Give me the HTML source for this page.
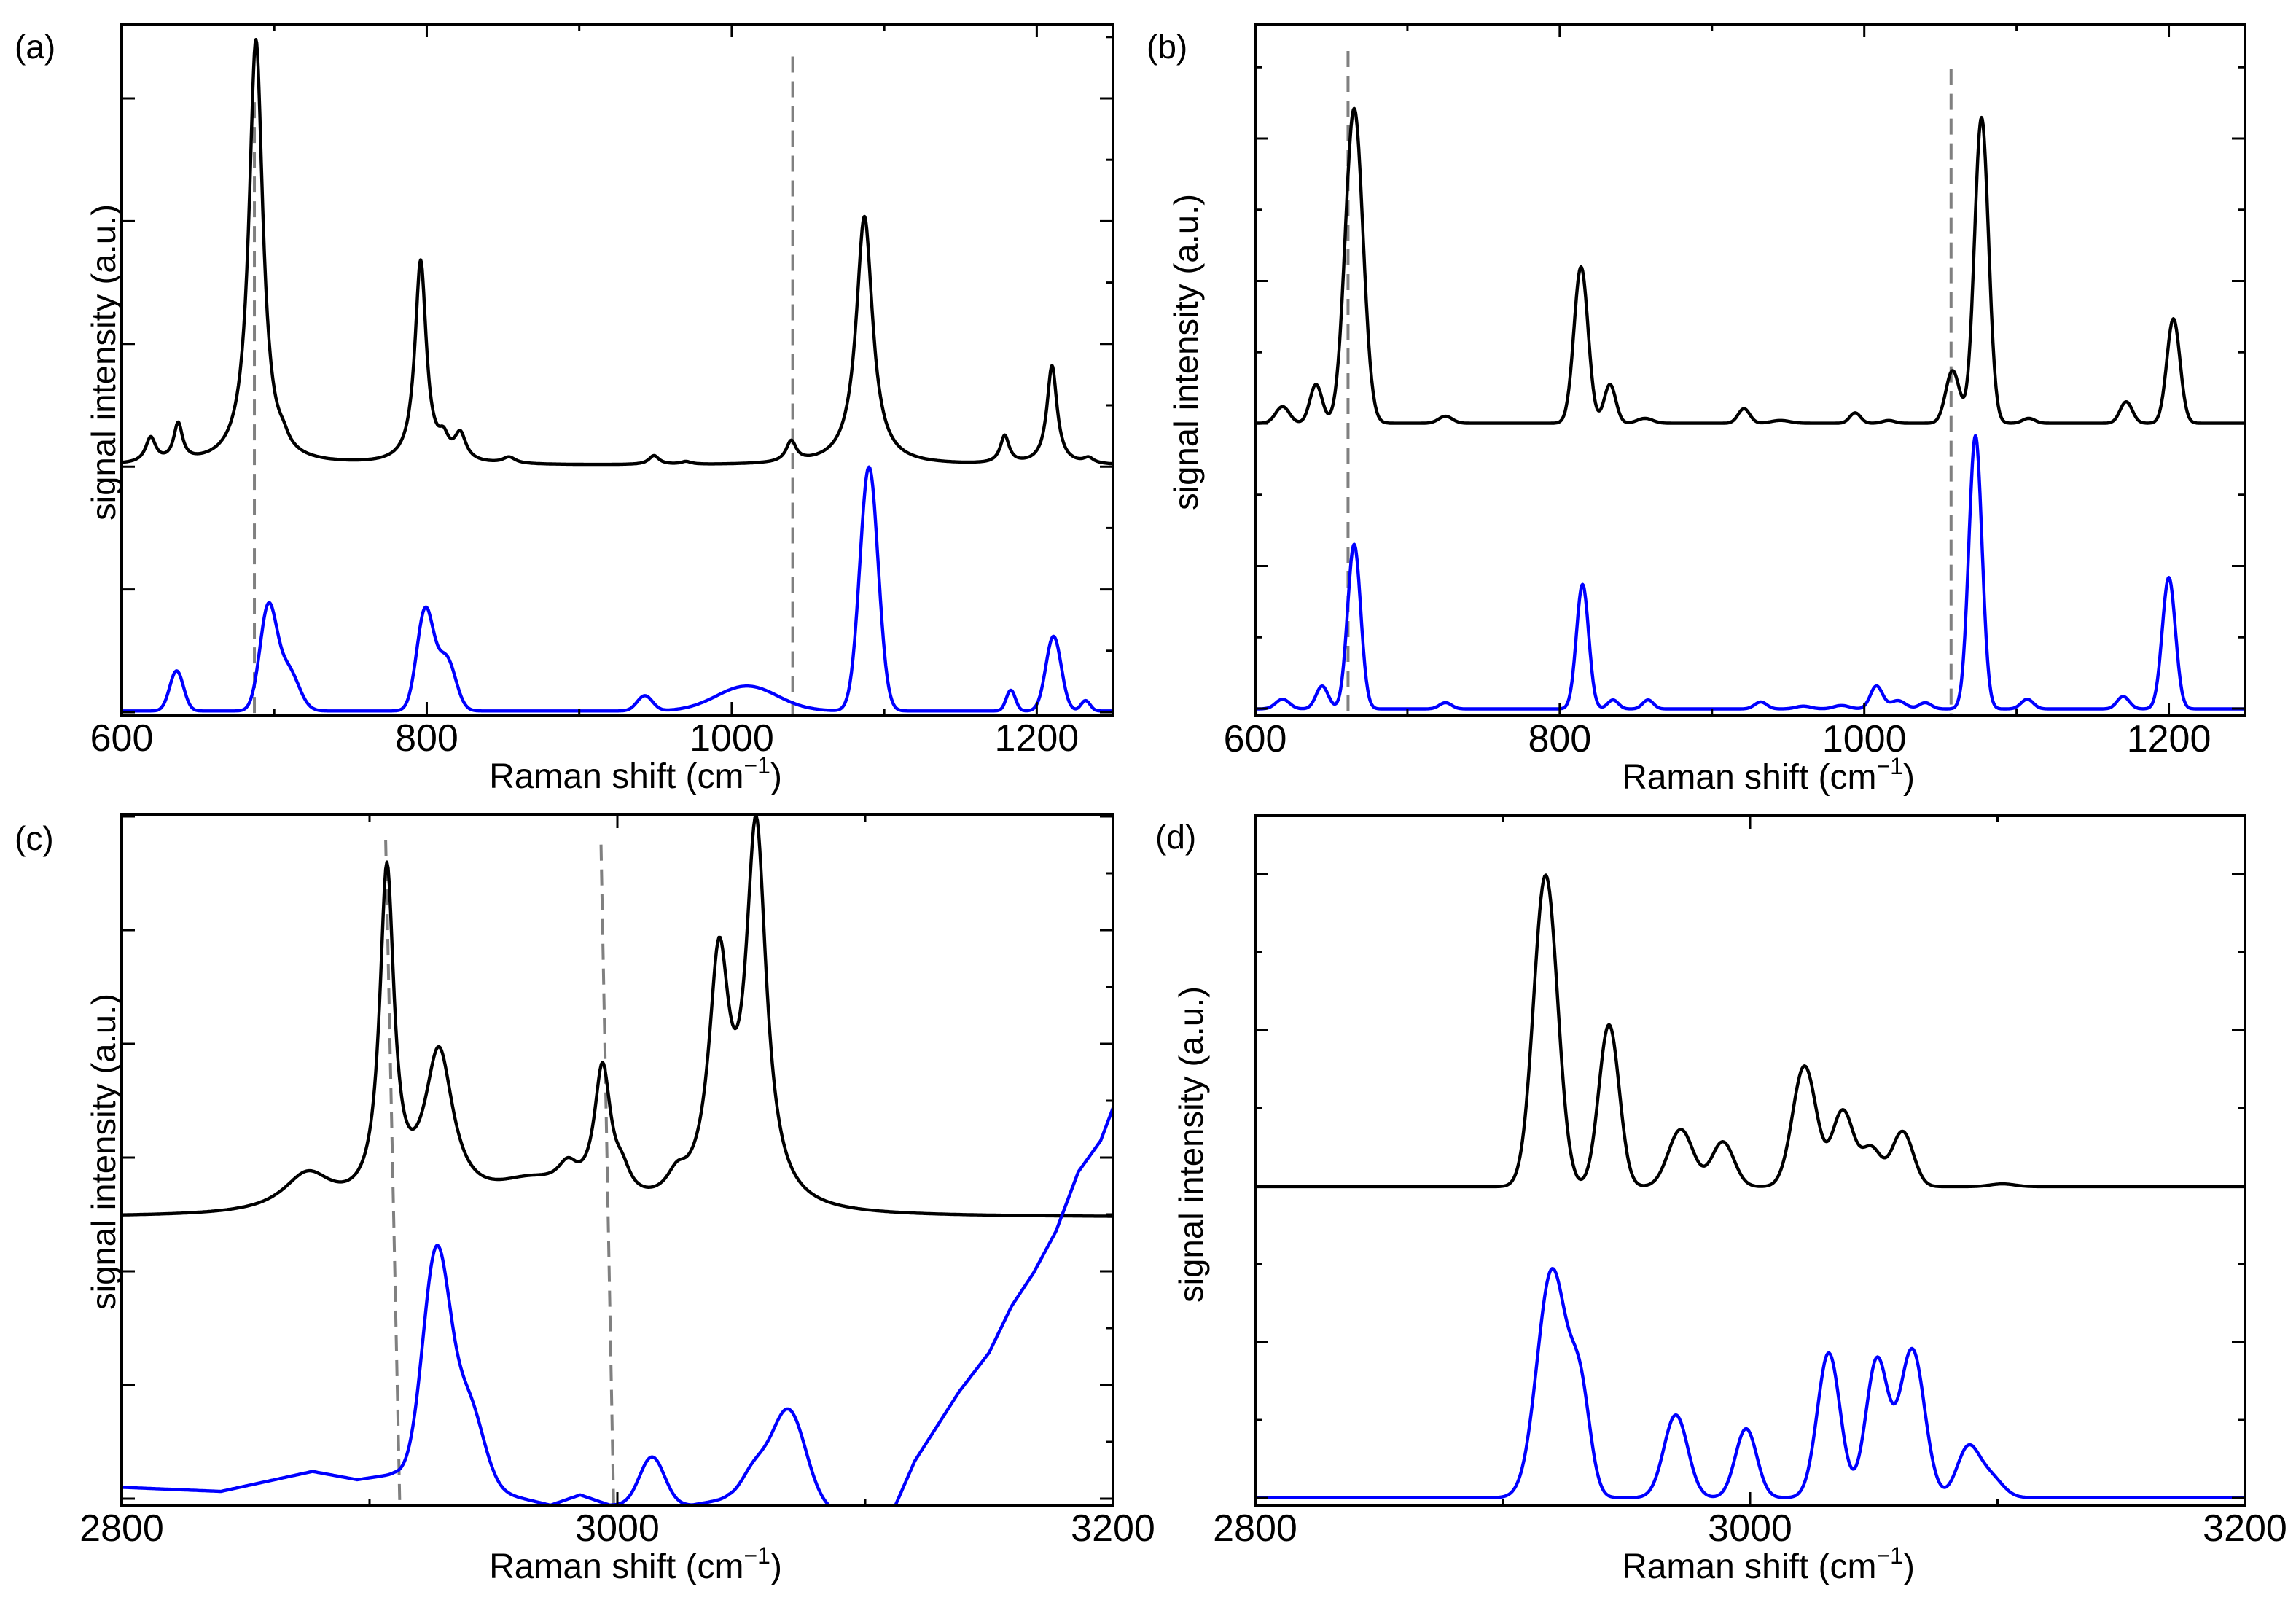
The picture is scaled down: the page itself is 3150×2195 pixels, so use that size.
<!DOCTYPE html>
<html><head><meta charset="utf-8"><style>
html,body{margin:0;padding:0;background:#fff;}
svg{display:block;font-family:"Liberation Sans",Arial,sans-serif;}
</style></head><body>
<svg id="fig" width="3150" height="2195" viewBox="0 0 3150 2195" xmlns="http://www.w3.org/2000/svg"></svg>
<script>
// ---- Panel (a) data (intensity in % of axis height) ----
const aBlackBase = 36.1;
const aBlackCenters = [619, 637, 688, 706, 796, 811, 822, 854, 949, 970, 1039, 1087, 1179, 1210, 1234];
const aBlackHeights = [3.6, 5.4, 61.5, 1.2, 29.3, 2.5, 3.8, 0.9, 1.3, 0.4, 3.0, 36.0, 4.0, 14.3, 0.8];
const aBlackWidths  = [4, 3.5, 5.5, 4, 4.5, 4, 4.5, 5, 4, 4, 4, 6.5, 3.5, 4, 4];
const aBlueBase = 0.6;
const aBlueCenters = [636, 696, 709, 799, 813, 943, 1010, 1090, 1183, 1211, 1232];
const aBlueHeights = [5.8, 14.5, 6, 14.5, 7.5, 2.2, 3.6, 35.3, 3.0, 10.8, 1.5];
const aBlueWidths  = [4.5, 5.5, 7, 5.5, 6, 5, 20, 6, 3, 5, 3];
const aDashX = [687, 1040];
const aDashTop = [88.7, 95.3];
// ---- Panel (b) ----
const bBlackBase = 42.3;
const bBlackCenters = [618, 640, 665, 725, 814, 833, 856, 921, 945, 994, 1016, 1058, 1077, 1108, 1172, 1203];
const bBlackHeights = [2.4, 5.6, 45.5, 1.0, 22.6, 5.6, 0.7, 2.1, 0.4, 1.5, 0.4, 7.6, 44.2, 0.7, 3.1, 15.1];
const bBlackWidths  = [4.5, 4, 5.8, 4.5, 4.6, 3.8, 5, 3.8, 6, 3.5, 4, 4.5, 4.6, 4, 4, 4.3];
const bBlueBase = 1.0;
const bBlueCenters = [618, 644, 665, 725, 815, 835, 858, 932, 960, 985, 1008, 1022, 1040, 1073, 1107, 1170, 1200];
const bBlueHeights = [1.4, 3.3, 23.8, 0.9, 18.0, 1.3, 1.3, 1.0, 0.4, 0.5, 3.3, 1.2, 0.9, 39.5, 1.4, 1.8, 19.0];
const bBlueWidths  = [4.5, 4, 4.3, 4, 4, 3.5, 3.5, 4, 5, 5, 4, 5, 4, 4.3, 4, 4, 4.3];
const bDashX = [661, 1057];
const bDashTop = [96.1, 93.5];
// ---- Panel (c) ----
const cBlackBase = 41.7;
const cBlackCenters = [2875, 2907, 2928, 2965, 2980, 2994, 3002, 3024, 3041, 3056];
const cBlackHeights = [5.5, 48, 22, 4, 3.5, 19, 3, 3, 34.3, 54.3];
const cBlackWidths  = [12, 3.5, 7, 20, 5, 4, 4, 5, 5, 5];
const cBlueKnotX = [2800, 2840, 2877, 2895, 2910, 2950, 2973, 2985, 2997, 3030, 3045, 3087, 3111, 3120, 3138, 3150, 3159, 3168, 3177, 3186, 3195, 3201];
const cBlueKnotY = [2.6, 2.0, 4.9, 3.7, 4.5, 2.0, 0, 1.5, 0, 0, 1, -1, -1, 6.4, 16.5, 22.1, 28.8, 33.7, 39.7, 48.3, 52.8, 58.5];
const cBlueCenters = [2927, 2940, 3014, 3055, 3069];
const cBlueHeights = [33, 12, 7, 4, 14];
const cBlueWidths  = [5.5, 6, 5, 5, 7];
const cDashX1 = [2906.5, 2993.4];
const cDashX2 = [2912.2, 2998.5];
const cDashTop = [96.4, 95.7];
// ---- Panel (d) ----
const dBlackBase = 46.2;
const dBlackCenters = [2917.4, 2943, 2972, 2989, 3022, 3037.5, 3049, 3061.6, 3102];
const dBlackHeights = [45.2, 23.5, 8.3, 6.5, 17.5, 11, 5.5, 8, 0.4];
const dBlackWidths  = [4.8, 4.1, 5, 4.5, 4.8, 4.3, 4, 4.3, 5];
const dBlueBase = 1.1;
const dBlueCenters = [2920, 2931.5, 2970, 2998.4, 3031.8, 3051.3, 3065.5, 3088, 3097];
const dBlueHeights = [33, 14, 12, 10, 21, 20, 21.5, 7, 3];
const dBlueWidths  = [6, 4, 4.8, 4.3, 4.6, 4.5, 5, 4.5, 5];
// ---- tick labels ----
const xTicksLow = [600, 800, 1000, 1200];
const xTicksHigh = [2800, 3000, 3200];

const NS = 'http://www.w3.org/2000/svg';
const svg = document.getElementById('fig');
function mk(tag, attrs, parent) {
  const e = document.createElementNS(NS, tag);
  for (const k in attrs) e.setAttribute(k, attrs[k]);
  (parent || svg).appendChild(e);
  return e;
}
function lor(x, c, h, w) { return h * w * w / ((x - c) * (x - c) + w * w); }
function gau(x, c, h, s) { return h * Math.exp(-(x - c) * (x - c) / (2 * s * s)); }
function knots(x, kx, ky) {
  if (x <= kx[0]) return ky[0];
  for (let i = 1; i < kx.length; i++) {
    if (x <= kx[i]) { const t = (x - kx[i - 1]) / (kx[i] - kx[i - 1]); return ky[i - 1] + t * (ky[i] - ky[i - 1]); }
  }
  return ky[ky.length - 1];
}

function panel(p) {
  const g = mk('g', {});
  
  
  const X = v => p.L + (v - p.x0) / (p.x1 - p.x0) * (p.R - p.L);
  const Y = v => p.B - v / 100 * (p.B - p.T);
  const clipId = 'clip-' + p.id;
  const cp = mk('clipPath', { id: clipId }, g);
  mk('rect', { x: p.L, y: p.T, width: p.R - p.L, height: p.B - p.T }, cp);
  p.dashes.forEach((d, i) => {
    const ln = mk('line', { x1: X(d[0]), y1: Y(d[2]), x2: X(d[1]), y2: Y(0), stroke: '#808080', 'stroke-width': 4, 'stroke-dasharray': '22 12' }, g);
    
    
  });
  p.series.forEach(s => {
    let d = '';
    for (let x = p.x0; x <= p.x1 + 1e-9; x += 0.5) {
      let y = s.base(x);
      for (let i = 0; i < s.c.length; i++) y += s.f(x, s.c[i], s.h[i], s.w[i]);
      d += (d ? 'L' : 'M') + X(x).toFixed(1) + ' ' + Y(y).toFixed(1);
    }
    const path = mk('path', { d: d, fill: 'none', stroke: s.color, 'stroke-width': 4.4, 'stroke-linejoin': 'round', 'clip-path': 'url(#' + clipId + ')' }, g);
    
    
  });
  const fr = mk('rect', { x: p.L, y: p.T, width: p.R - p.L, height: p.B - p.T, fill: 'none', stroke: '#000', 'stroke-width': 4 }, g);
  
  
  const stepPx = p.yStep, offPx = p.yOff;
  for (let k = 0; ; k++) {
    const y = p.B - offPx - k * stepPx / 2;
    if (y < p.T + 2) break;
    const major = k % 2 === 0;
    const len = major ? 18 : 9;
    if (major || p.leftMinor) mk('line', { x1: p.L, y1: y, x2: p.L + len, y2: y, stroke: '#000', 'stroke-width': 3 }, g);
    mk('line', { x1: p.R, y1: y, x2: p.R - len, y2: y, stroke: '#000', 'stroke-width': 3 }, g);
  }
  for (let v = p.x0; v <= p.x1 + 1e-9; v += p.minor) {
    const major = Math.abs((v - p.x0) % p.major) < 1e-6;
    const len = major ? 18 : 9;
    const x = X(v);
    if (x > p.R - 3) continue;
    mk('line', { x1: x, y1: p.B, x2: x, y2: p.B - len, stroke: '#000', 'stroke-width': 3 }, g);
    mk('line', { x1: x, y1: p.T, x2: x, y2: p.T + len, stroke: '#000', 'stroke-width': 3 }, g);
  }
  p.ticks.forEach(v => {
    const t = mk('text', { x: X(v), y: p.B + 49, 'text-anchor': 'middle', 'font-size': 52 }, g);
    t.textContent = v;
    
    
  });
  const xt = mk('text', { x: (p.L + p.R) / 2 + 25, y: p.B + 100, 'text-anchor': 'middle', 'font-size': 48 }, g);
  
  
  xt.appendChild(document.createTextNode('Raman shift (cm'));
  const sup = mk('tspan', { dy: -20, 'font-size': 32 }, xt);
  sup.textContent = '\u22121';
  const cl = mk('tspan', { dy: 20 }, xt);
  cl.textContent = ')';
  const yt = mk('text', { transform: 'translate(' + p.yLabX + ',' + p.yLabY + ') rotate(-90)', 'text-anchor': 'middle', 'font-size': 46, textLength: 434, lengthAdjust: 'spacingAndGlyphs' }, g);
  yt.textContent = 'signal intensity (a.u.)';
  
  
  const pl = mk('text', { x: p.labX, y: p.labY, 'font-size': 46 }, g);
  pl.textContent = '(' + p.id + ')';
  
  
}

panel({ id: 'a', name: 'panel-a', L: 167, R: 1527, T: 33, B: 981, x0: 600, x1: 1250, major: 200, minor: 100, ticks: xTicksLow,
  yStep: 168.4, yOff: 4, leftMinor: false, yLabX: 158, yLabY: 497, labX: 20, labY: 80,
  dashes: aDashX.map((x, i) => [x, x, aDashTop[i]]),
  series: [
    { name: 'experimental-spectrum', color: '#000', base: () => aBlackBase, f: lor, c: aBlackCenters, h: aBlackHeights, w: aBlackWidths },
    { name: 'calculated-spectrum', color: '#0000ff', base: () => aBlueBase, f: gau, c: aBlueCenters, h: aBlueHeights, w: aBlueWidths }] });
panel({ id: 'b', name: 'panel-b', L: 1722, R: 3080, T: 33, B: 982, x0: 600, x1: 1250, major: 200, minor: 100, ticks: xTicksLow,
  yStep: 195.5, yOff: 10, leftMinor: true, yLabX: 1643, yLabY: 483, labX: 1573, labY: 80,
  dashes: bDashX.map((x, i) => [x, x, bDashTop[i]]),
  series: [
    { name: 'experimental-spectrum', color: '#000', base: () => bBlackBase, f: gau, c: bBlackCenters, h: bBlackHeights, w: bBlackWidths },
    { name: 'calculated-spectrum', color: '#0000ff', base: () => bBlueBase, f: gau, c: bBlueCenters, h: bBlueHeights, w: bBlueWidths }] });
panel({ id: 'c', name: 'panel-c', L: 167, R: 1527, T: 1118, B: 2065, x0: 2800, x1: 3200, major: 200, minor: 100, ticks: xTicksHigh,
  yStep: 156, yOff: 9, leftMinor: false, yLabX: 158, yLabY: 1580, labX: 20, labY: 1166,
  dashes: cDashX1.map((x, i) => [x, cDashX2[i], cDashTop[i]]),
  series: [
    { name: 'experimental-spectrum', color: '#000', base: () => cBlackBase, f: lor, c: cBlackCenters, h: cBlackHeights, w: cBlackWidths },
    { name: 'calculated-spectrum', color: '#0000ff', base: x => knots(x, cBlueKnotX, cBlueKnotY), f: gau, c: cBlueCenters, h: cBlueHeights, w: cBlueWidths }] });
panel({ id: 'd', name: 'panel-d', L: 1722, R: 3080, T: 1119, B: 2065, x0: 2800, x1: 3200, major: 200, minor: 100, ticks: xTicksHigh,
  yStep: 214, yOff: 10, leftMinor: true, yLabX: 1650, yLabY: 1570, labX: 1585, labY: 1164,
  dashes: [],
  series: [
    { name: 'experimental-spectrum', color: '#000', base: () => dBlackBase, f: gau, c: dBlackCenters, h: dBlackHeights, w: dBlackWidths },
    { name: 'calculated-spectrum', color: '#0000ff', base: () => dBlueBase, f: gau, c: dBlueCenters, h: dBlueHeights, w: dBlueWidths }] });
</script>
</body></html>
